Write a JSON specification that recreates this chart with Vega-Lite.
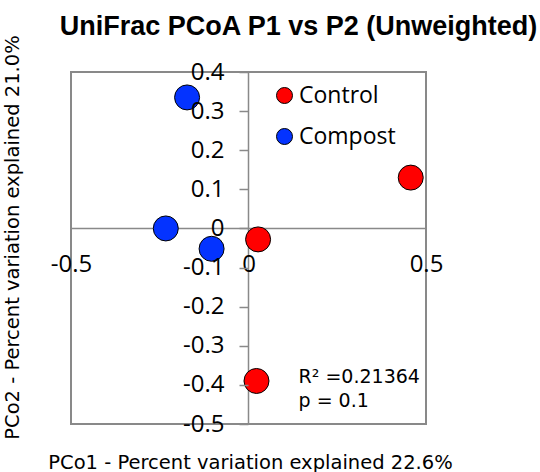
{
  "$schema": "https://vega.github.io/schema/vega-lite/v6.json",
  "width": 355,
  "height": 352,
  "autosize": {"type": "none"},
  "padding": {"left": 71, "top": 72, "right": 114, "bottom": 48},
  "background": "white",
  "title": {
    "text": "UniFrac PCoA P1 vs P2 (Unweighted)",
    "font": "Liberation Sans",
    "fontSize": 27,
    "fontWeight": "bold",
    "color": "black",
    "anchor": "middle",
    "frame": "group",
    "dx": 50,
    "offset": -6
  },
  "config": {
    "view": {"stroke": "#898989", "strokeWidth": 2},
    "axis": {"grid": false}
  },
  "layer": [
    {
      "data": {"values": [{"zero": 0}]},
      "mark": {"type": "rule", "color": "#898989", "strokeWidth": 1.5},
      "encoding": {"x": {"field": "zero", "type": "quantitative"}}
    },
    {
      "data": {"values": [{"zero": 0}]},
      "mark": {"type": "rule", "color": "#898989", "strokeWidth": 1.5},
      "encoding": {"y": {"field": "zero", "type": "quantitative"}}
    },
    {
      "data": {
        "values": [
          {"pc1": 0.027, "pc2": -0.028, "group": "Control"},
          {"pc1": 0.457, "pc2": 0.130, "group": "Control"},
          {"pc1": 0.0225, "pc2": -0.39, "group": "Control"},
          {"pc1": -0.173, "pc2": 0.335, "group": "Compost"},
          {"pc1": -0.233, "pc2": 0.0, "group": "Compost"},
          {"pc1": -0.104, "pc2": -0.052, "group": "Compost"}
        ]
      },
      "mark": {"type": "point", "filled": true, "size": 625, "stroke": "black", "strokeWidth": 1, "opacity": 1},
      "encoding": {
        "x": {
          "field": "pc1", "type": "quantitative",
          "scale": {"domain": [-0.5, 0.5], "nice": false, "zero": false},
          "axis": {
            "orient": "bottom", "offset": -196, "zindex": 1,
            "domain": false, "ticks": false,
            "values": [-0.5, 0, 0.5], "tickCount": 20,
            "labelExpr": "toString(datum.value)",
            "labelFont": "Open Sans", "labelFontSize": 24, "labelColor": "black",
            "labelPadding": 24, "labelFlush": false, "labelOverlap": false,
            "title": "PCo1 - Percent variation explained 22.6%",
            "titleFont": "DejaVu Sans", "titleFontSize": 19.5, "titleFontWeight": "normal", "titleColor": "black",
            "titleX": 179, "titleY": 234, "titleBaseline": "middle"
          }
        },
        "y": {
          "field": "pc2", "type": "quantitative",
          "scale": {"domain": [-0.5, 0.4], "nice": false, "zero": false},
          "axis": {
            "orient": "left", "offset": -177, "zindex": 1,
            "domain": false, "ticks": true, "tickSize": 9, "tickColor": "#898989", "tickWidth": 1.5,
            "values": [-0.5, -0.4, -0.3, -0.2, -0.1, 0, 0.1, 0.2, 0.3, 0.4], "tickCount": 20,
            "labelExpr": "toString(datum.value)",
            "labelFont": "Open Sans", "labelFontSize": 24, "labelColor": "black",
            "labelPadding": 15, "labelFlush": false, "labelOverlap": false, "labelBaseline": "middle",
            "title": "PCo2 - Percent variation explained 21.0%",
            "titleFont": "DejaVu Sans", "titleFontSize": 19.5, "titleFontWeight": "normal", "titleColor": "black",
            "titleX": -236, "titleY": 165, "titleBaseline": "middle"
          }
        },
        "fill": {
          "field": "group", "type": "nominal",
          "scale": {"domain": ["Control", "Compost"], "range": ["#ff0000", "#0433ff"]},
          "legend": {
            "orient": "none", "legendX": 202, "legendY": 12,
            "title": null, "padding": 0,
            "symbolType": "circle", "symbolSize": 256,
            "symbolStrokeColor": "black", "symbolStrokeWidth": 1, "symbolOpacity": 1,
            "labelFont": "Open Sans", "labelFontSize": 23, "labelColor": "black",
            "labelOffset": 3, "rowPadding": 17
          }
        }
      }
    },
    {
      "data": {
        "values": [
          {"pc1": 0.141, "pc2": -0.379, "label": "R² =0.21364"},
          {"pc1": 0.141, "pc2": -0.441, "label": "p = 0.1"}
        ]
      },
      "mark": {"type": "text", "align": "left", "baseline": "middle", "font": "DejaVu Sans", "fontSize": 19, "color": "black"},
      "encoding": {
        "x": {"field": "pc1", "type": "quantitative"},
        "y": {"field": "pc2", "type": "quantitative"},
        "text": {"field": "label"}
      }
    }
  ]
}
